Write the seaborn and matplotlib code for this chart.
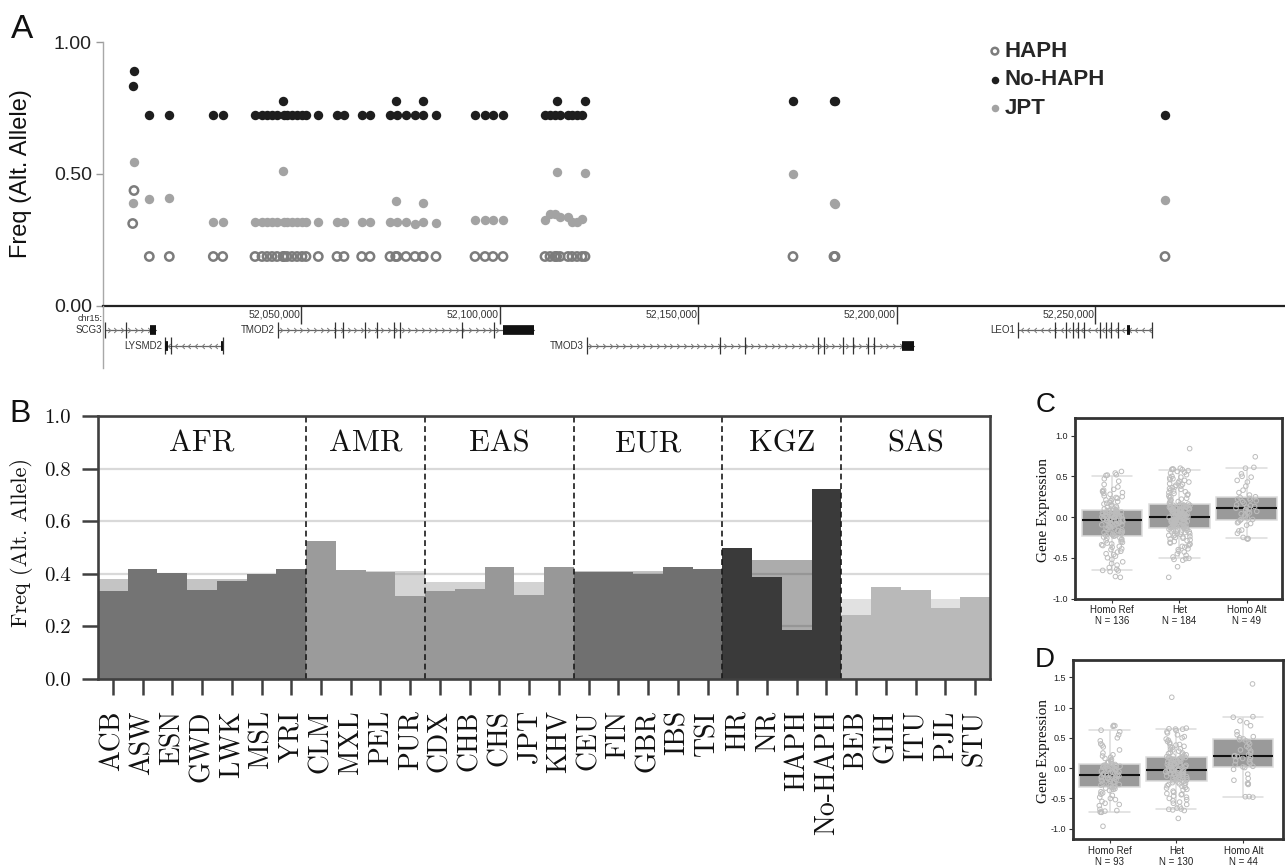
import numpy as np
import pandas as pd
import matplotlib
matplotlib.use("Agg")
import matplotlib.pyplot as plt
import matplotlib.transforms as mtransforms
from matplotlib.path import Path
import seaborn as sns

sns.set_theme(style="white")
plt.rcParams["font.family"] = ["Liberation Sans", "DejaVu Sans"]
plt.rcParams["axes.unicode_minus"] = False
SERIF_CM = ["cmr10", "DejaVu Serif"]

# ---------------- Panel A data ----------------
snp_pos = [52007481, 52007809, 52011663, 52016701, 52027785, 52030153, 52038289,
           52040052, 52041312, 52042571, 52043831, 52045342, 52045600, 52046350,
           52047609, 52048869, 52050128, 52051136, 52054234, 52058945, 52060708,
           52065167, 52067257, 52072295, 52073731, 52074058, 52076325, 52078592,
           52080532, 52080683, 52083883, 52093707, 52096226, 52098241, 52100760,
           52111340, 52112600, 52113860, 52114288, 52115118, 52117133, 52118141,
           52119400, 52120660, 52121416, 52173810, 52184138, 52184400, 52267517]
nohaph = [0.833, 0.889, 0.722, 0.722, 0.722, 0.722, 0.722,
          0.722, 0.722, 0.722, 0.722, 0.778, 0.722, 0.722,
          0.722, 0.722, 0.722, 0.722, 0.722, 0.722, 0.722,
          0.722, 0.722, 0.722, 0.778, 0.722, 0.722, 0.722,
          0.722, 0.778, 0.722, 0.722, 0.722, 0.722, 0.722,
          0.722, 0.722, 0.722, 0.778, 0.722, 0.722, 0.722,
          0.722, 0.722, 0.778, 0.778, 0.778, 0.778, 0.722]
jpt = [0.391, 0.547, 0.406, 0.410, 0.320, 0.320, 0.320,
       0.320, 0.320, 0.320, 0.320, 0.513, 0.320, 0.320,
       0.320, 0.320, 0.320, 0.320, 0.320, 0.320, 0.320,
       0.320, 0.320, 0.320, 0.398, 0.320, 0.320, 0.311,
       0.320, 0.391, 0.313, 0.326, 0.326, 0.326, 0.326,
       0.326, 0.348, 0.348, 0.509, 0.338, 0.338, 0.320,
       0.318, 0.330, 0.505, 0.500, 0.390, 0.385, 0.400]
haph = [0.3125, 0.4375] + [0.1875] * 47

axis_ticks = [52050000, 52100000, 52150000, 52200000, 52250000]
axis_tick_labels = ["52,050,000", "52,100,000", "52,150,000", "52,200,000", "52,250,000"]

gene_names = ["SCG3", "LYSMD2", "TMOD2", "TMOD3", "LEO1"]
gene_start = [52000500, 52015740, 52044000, 52121890, 52230500]
gene_end = [52013350, 52030300, 52108490, 52204400, 52264160]
gene_strand = [1, -1, 1, 1, -1]
gene_row = [0, 1, 0, 1, 0]
gene_exons = [
    [52000500, 52005794],
    [52015740, 52017180, 52030300],
    [52044000, 52058490, 52060430, 52066020, 52069120, 52073250, 52074890, 52090330, 52098540],
    [52121890, 52155300, 52161600, 52180100, 52181500, 52186300, 52188900, 52192600, 52194200],
    [52230500, 52239800, 52242600, 52244300, 52245700, 52247000, 52251200, 52252700,
     52254000, 52255600, 52264160],
]
gene_blocks = [
    [(52011965, 52013350)],
    [(52015740, 52016300), (52029800, 52030300)],
    [(52100660, 52108490)],
    [(52201200, 52204400)],
    [(52258000, 52258700)],
]

# ---------------- Panel B data ----------------
pops = ["ACB", "ASW", "ESN", "GWD", "LWK", "MSL", "YRI",
        "CLM", "MXL", "PEL", "PUR",
        "CDX", "CHB", "CHS", "JPT", "KHV",
        "CEU", "FIN", "GBR", "IBS", "TSI",
        "HR", "NR", "HAPH", "No-HAPH",
        "BEB", "GIH", "ITU", "PJL", "STU"]
pop_group = ["AFR", "AFR", "AFR", "AFR", "AFR", "AFR", "AFR",
             "AMR", "AMR", "AMR", "AMR",
             "EAS", "EAS", "EAS", "EAS", "EAS",
             "EUR", "EUR", "EUR", "EUR", "EUR",
             "KGZ", "KGZ", "KGZ", "KGZ",
             "SAS", "SAS", "SAS", "SAS", "SAS"]
pop_freq = [0.334, 0.417, 0.403, 0.340, 0.374, 0.400, 0.417,
            0.526, 0.413, 0.406, 0.316,
            0.334, 0.344, 0.426, 0.321, 0.427,
            0.407, 0.405, 0.398, 0.424, 0.420,
            0.499, 0.388, 0.188, 0.722,
            0.244, 0.348, 0.338, 0.270, 0.312]
groups = ["AFR", "AMR", "EAS", "EUR", "KGZ", "SAS"]
group_mean = [0.379, 0.410, 0.370, 0.410, 0.451, 0.303]
group_colors = {"AFR": "#747474", "AMR": "#9b9b9b", "EAS": "#989898",
                "EUR": "#707070", "KGZ": "#3a3a3a", "SAS": "#b9b9b9"}

# ---------------- Panels C / D data ----------------
geno_order = ["Homo Ref", "Het", "Homo Alt"]
C_labels = ["Homo Ref\nN = 136", "Het\nN = 184", "Homo Alt\nN = 49"]
D_labels = ["Homo Ref\nN = 93", "Het\nN = 130", "Homo Alt\nN = 44"]

C_ref = [-0.74, -0.73, -0.67, -0.66,
         -0.655, -0.64, -0.62, -0.59, -0.57, -0.55, -0.52, -0.50, -0.48, -0.46, -0.45, -0.43,
         -0.42, -0.40, -0.39, -0.37, -0.36, -0.35, -0.34, -0.33, -0.32, -0.31, -0.30, -0.29,
         -0.28, -0.27, -0.26, -0.255, -0.245, -0.235,
         -0.23, -0.225, -0.22, -0.21, -0.205, -0.20, -0.19, -0.185, -0.18, -0.17, -0.165, -0.16,
         -0.15, -0.145, -0.14, -0.13, -0.125, -0.12, -0.11, -0.105, -0.10, -0.095, -0.09, -0.085,
         -0.08, -0.075, -0.07, -0.065, -0.06, -0.055, -0.05, -0.048, -0.045, -0.042,
         -0.038, -0.035, -0.03, -0.025, -0.02, -0.018, -0.015, -0.01, -0.005, 0.0, 0.003, 0.006,
         0.01, 0.014, 0.018, 0.02, 0.024, 0.028, 0.03, 0.034, 0.038, 0.04, 0.044, 0.048, 0.05,
         0.054, 0.058, 0.06, 0.064, 0.068, 0.072, 0.076, 0.08, 0.083,
         0.09, 0.10, 0.11, 0.12, 0.13, 0.14, 0.15, 0.16, 0.17, 0.18, 0.19, 0.20, 0.21, 0.22,
         0.23, 0.24, 0.25, 0.26, 0.28, 0.29, 0.30, 0.31, 0.32, 0.33, 0.34, 0.37, 0.40, 0.44,
         0.47, 0.51,
         0.515, 0.52, 0.54, 0.56]
C_het = [-0.74, -0.61, -0.53, -0.52, -0.51,
         -0.507, -0.49, -0.47, -0.45, -0.43, -0.42, -0.40, -0.39, -0.37, -0.36, -0.35, -0.34,
         -0.33, -0.32, -0.31, -0.30, -0.29, -0.28, -0.27, -0.26, -0.25, -0.245, -0.24, -0.23,
         -0.225, -0.22, -0.21, -0.205, -0.20, -0.19, -0.185, -0.18, -0.175, -0.17, -0.165,
         -0.16, -0.155, -0.15, -0.145, -0.14, -0.136,
         -0.132, -0.128, -0.125, -0.12, -0.116, -0.113, -0.11, -0.106, -0.103, -0.10, -0.096,
         -0.093, -0.09, -0.086, -0.083, -0.08, -0.076, -0.073, -0.07, -0.066, -0.063, -0.06,
         -0.056, -0.053, -0.05, -0.046, -0.043, -0.04, -0.036, -0.033, -0.03, -0.027, -0.024,
         -0.021, -0.018, -0.015, -0.012, -0.01, -0.008, -0.006, -0.004, -0.002, 0.0, 0.001,
         0.002, 0.003,
         0.007, 0.01, 0.013, 0.016, 0.02, 0.023, 0.026, 0.03, 0.033, 0.036, 0.04, 0.043, 0.046,
         0.05, 0.053, 0.056, 0.06, 0.063, 0.066, 0.07, 0.073, 0.076, 0.08, 0.083, 0.086, 0.09,
         0.093, 0.096, 0.10, 0.103, 0.106, 0.11, 0.113, 0.116, 0.12, 0.123, 0.126, 0.13, 0.133,
         0.136, 0.14, 0.143, 0.146, 0.149, 0.151, 0.153,
         0.16, 0.17, 0.18, 0.19, 0.20, 0.21, 0.22, 0.23, 0.24, 0.25, 0.26, 0.27, 0.28, 0.29,
         0.30, 0.31, 0.32, 0.33, 0.34, 0.35, 0.36, 0.37, 0.38, 0.39, 0.40, 0.41, 0.42, 0.43,
         0.44, 0.45, 0.46, 0.47, 0.48, 0.49, 0.50, 0.52, 0.54, 0.55, 0.56, 0.57, 0.582,
         0.585, 0.587, 0.59, 0.60, 0.84]
C_alt = [-0.27, -0.266, -0.263,
         -0.25, -0.20, -0.17, -0.16, -0.10, -0.08, -0.07, -0.06, -0.04,
         -0.032,
         -0.03, -0.01, 0.0, 0.02, 0.04, 0.05, 0.06, 0.07, 0.08, 0.09, 0.10,
         0.11,
         0.12, 0.13, 0.14, 0.15, 0.17, 0.19, 0.20, 0.21, 0.22, 0.23, 0.24,
         0.249,
         0.27, 0.30, 0.33, 0.38, 0.43, 0.45, 0.49, 0.50, 0.53,
         0.60, 0.61, 0.74]
D_ref = [-0.96, -0.73, -0.728, -0.725,
         -0.71, -0.70, -0.68, -0.62, -0.60, -0.58, -0.55, -0.52, -0.50, -0.48, -0.45, -0.43,
         -0.41, -0.39, -0.37, -0.35, -0.34, -0.33, -0.32,
         -0.313,
         -0.30, -0.29, -0.28, -0.27, -0.26, -0.25, -0.24, -0.23, -0.22, -0.21, -0.20, -0.19,
         -0.18, -0.17, -0.16, -0.155, -0.15, -0.145, -0.14, -0.135, -0.13, -0.125,
         -0.12,
         -0.11, -0.10, -0.09, -0.08, -0.07, -0.06, -0.05, -0.04, -0.03, -0.02, -0.01, 0.0,
         0.005, 0.01, 0.015, 0.02, 0.025, 0.03, 0.035, 0.04, 0.045, 0.05,
         0.06,
         0.07, 0.08, 0.09, 0.10, 0.12, 0.14, 0.16, 0.18, 0.20, 0.22, 0.25, 0.30, 0.35, 0.38,
         0.40, 0.45, 0.50, 0.55, 0.60,
         0.626, 0.69, 0.70, 0.705]
D_het = [-0.83, -0.70, -0.69, -0.68, -0.675,
         -0.66, -0.64, -0.60, -0.58, -0.56, -0.54, -0.52, -0.50, -0.48, -0.46, -0.44, -0.43,
         -0.42, -0.40, -0.38, -0.36, -0.35, -0.33, -0.32, -0.30, -0.29, -0.28, -0.27, -0.26,
         -0.25, -0.24, -0.23, -0.216,
         -0.208, -0.20, -0.195, -0.19, -0.18, -0.175, -0.17, -0.16, -0.155, -0.15, -0.14,
         -0.135, -0.13, -0.12, -0.115, -0.11, -0.10, -0.095, -0.09, -0.085, -0.08, -0.075,
         -0.07, -0.065, -0.06, -0.055, -0.05, -0.045, -0.04, -0.037, -0.034, -0.03,
         -0.024, -0.02, -0.01, 0.0, 0.01, 0.02, 0.025, 0.03, 0.04, 0.045, 0.05, 0.06, 0.065,
         0.07, 0.08, 0.085, 0.09, 0.10, 0.105, 0.11, 0.12, 0.125, 0.13, 0.14, 0.145, 0.15,
         0.16, 0.165, 0.17, 0.175, 0.18, 0.184,
         0.19, 0.20, 0.21, 0.22, 0.23, 0.24, 0.25, 0.26, 0.28, 0.30, 0.31, 0.32, 0.34, 0.35,
         0.36, 0.38, 0.39, 0.40, 0.42, 0.44, 0.46, 0.48, 0.50, 0.52, 0.55, 0.58, 0.60, 0.62,
         0.643,
         0.645, 0.65, 0.66, 1.17]
D_alt = [-0.48, -0.472, -0.47,
         -0.27, -0.26, -0.25, -0.20, -0.17, -0.10, -0.02,
         0.01, 0.02,
         0.03, 0.06, 0.08, 0.10, 0.12, 0.14, 0.16, 0.18, 0.19,
         0.20, 0.206,
         0.22, 0.25, 0.28, 0.30, 0.33, 0.36, 0.40, 0.43, 0.45,
         0.47, 0.482,
         0.50, 0.52, 0.55, 0.60, 0.70, 0.75, 0.78,
         0.84, 0.85, 1.39]

# ---------------- figure ----------------
W, H = 1285, 866
fig = plt.figure(figsize=(W / 100, H / 100), dpi=100)


def box(l, t, r, b):
    return [l / W, 1 - b / H, (r - l) / W, (b - t) / H]


# ======== Panel A ========
XMIN, XMAX = 52000000, 52297750
axA = fig.add_axes(box(103, 42, 1285, 306))
dfA = pd.DataFrame({"pos": snp_pos, "HAPH": haph, "No-HAPH": nohaph, "JPT": jpt})
sns.scatterplot(data=dfA, x="pos", y="JPT", color="#a3a3a3", s=46, linewidth=0,
                ax=axA, zorder=3)
hJ = axA.collections[-1]
sns.scatterplot(data=dfA, x="pos", y="No-HAPH", color="#1e1e1e", s=46, linewidth=0,
                ax=axA, zorder=3)
hN = axA.collections[-1]
sns.scatterplot(data=dfA, x="pos", y="HAPH", color="#7c7c7c", s=36, linewidth=1.8,
                ax=axA, zorder=3)
hH = axA.collections[-1]
hH.set_facecolor("none")
hH.set_edgecolor("#7c7c7c")

axA.set_xlim(XMIN, XMAX)
axA.set_ylim(0, 1.0)
axA.set_yticks([0, 0.5, 1.0])
axA.set_yticklabels(["0.00", "0.50", "1.00"], fontsize=14, color="#222222")
axA.tick_params(axis="y", left=True, length=5, width=1, color="#9a9a9a", pad=3)
axA.set_xticks(axis_ticks)
axA.set_xticklabels([])
axA.tick_params(axis="x", bottom=True, length=13, width=1, color="#333333", direction="out")
for s in ["top", "right"]:
    axA.spines[s].set_visible(False)
axA.spines["left"].set_color("#a8a8a8")
axA.spines["left"].set_linewidth(1.0)
axA.spines["bottom"].set_color("#222222")
axA.spines["bottom"].set_linewidth(1.6)
axA.set_xlabel("")
axA.set_ylabel("Freq (Alt. Allele)", fontsize=17, color="#111111")
axA.yaxis.set_label_coords(-0.060, 0.5)

trA = mtransforms.blended_transform_factory(axA.transData, axA.transAxes)
for t, lab in zip(axis_ticks, axis_tick_labels):
    axA.text(t - 300, -0.014, lab, transform=trA, ha="right", va="top",
             fontsize=7.5, color="#333333")
axA.text(XMIN - 200, -0.031, "chr15:", transform=trA, ha="right", va="top",
         fontsize=6.5, color="#333333", clip_on=False)

leg = axA.legend(handles=[hH, hN, hJ], labels=["HAPH", "No-HAPH", "JPT"],
                 loc="upper left", bbox_to_anchor=((986 - 103) / 1182, (306 - 41) / 264),
                 frameon=False, prop={"weight": "bold", "size": 16},
                 handletextpad=0.05, labelspacing=0.33, handlelength=0.8,
                 borderpad=0, borderaxespad=0, markerscale=0.8)

# gene track
axG = fig.add_axes(box(103, 306, 1285, 368))
axG.set_xlim(XMIN, XMAX)
axG.set_ylim(0, 1)
axG.patch.set_alpha(0)
for s in ["top", "right", "bottom"]:
    axG.spines[s].set_visible(False)
axG.spines["left"].set_color("#a8a8a8")
axG.spines["left"].set_linewidth(1.0)
axG.set_xticks([])
axG.set_yticks([])
row_y = [0.615, 0.362]
chev_r = Path([(-0.5, 1), (0.5, 0), (-0.5, -1)], [Path.MOVETO, Path.LINETO, Path.LINETO])
chev_l = Path([(0.5, 1), (-0.5, 0), (0.5, -1)], [Path.MOVETO, Path.LINETO, Path.LINETO])
for name, st, en, strand, row, exons, blocks in zip(gene_names, gene_start, gene_end,
                                                     gene_strand, gene_row, gene_exons,
                                                     gene_blocks):
    y = row_y[row]
    axG.plot([st, en], [y, y], color="#666666", lw=0.9, zorder=2)
    axG.vlines(exons, y - 0.13, y + 0.13, color="#333333", lw=0.9, zorder=3)
    for b0, b1 in blocks:
        axG.plot([b0, b1], [y, y], color="#111111", lw=7, solid_capstyle="butt", zorder=4)
    arrows = np.arange(st + 900, en - 400, 1700)
    axG.plot(arrows, [y] * len(arrows), ls="none",
             marker=chev_r if strand > 0 else chev_l, ms=3.6, mfc="none",
             mec="#777777", mew=0.7, zorder=2)
    axG.text(st - 700, y, name, ha="right", va="center", fontsize=7, color="#333333")

# ======== Panel B ========
axB = fig.add_axes(box(98, 416, 990, 679))
dfB = pd.DataFrame({"pop": pops, "freq": pop_freq, "group": pop_group})
axB.set_axisbelow(True)
axB.yaxis.grid(True, color="#d9d9d9", lw=1.6)
axB.xaxis.grid(False)
sns.barplot(data=dfB, x="pop", y="freq", hue="group", palette=group_colors, order=pops,
            hue_order=groups, dodge=False, width=1.0, saturation=1, errorbar=None,
            legend=False, linewidth=0, ax=axB, zorder=3)
for g, m in zip(groups, group_mean):
    idx = [i for i, p in enumerate(pop_group) if p == g]
    center = (idx[0] + idx[-1]) / 2
    axB.bar(center, m, width=len(idx), color=group_colors[g], alpha=0.42,
            linewidth=0, zorder=2)
    axB.text(center, 0.864, g, transform=mtransforms.blended_transform_factory(
        axB.transData, axB.transAxes), ha="center", va="baseline", fontsize=22,
        fontfamily=SERIF_CM, color="#111111")
bounds = []
for i in range(1, len(pop_group)):
    if pop_group[i] != pop_group[i - 1]:
        bounds.append(i - 0.5)
for b in bounds:
    axB.axvline(b, color="#1a1a1a", lw=1.2, ls=(0, (3.5, 2.2)), zorder=5)
axB.set_xlim(-0.5, len(pops) - 0.5)
axB.set_ylim(0, 1.0)
axB.set_yticks([0, 0.2, 0.4, 0.6, 0.8, 1.0])
axB.set_yticklabels(["0.0", "0.2", "0.4", "0.6", "0.8", "1.0"], fontsize=15,
                    fontfamily=SERIF_CM, color="#111111")
axB.set_xticks(range(len(pops)))
axB.set_xticklabels(pops, rotation=90, fontsize=20, fontfamily=SERIF_CM, color="#111111")
axB.tick_params(axis="y", left=True, length=11.5, width=1.8, color="#404040", pad=8)
axB.tick_params(axis="x", bottom=True, length=11.5, width=1.8, color="#404040", pad=11)
for s in axB.spines.values():
    s.set_color("#404040")
    s.set_linewidth(1.9)
    s.set_zorder(6)
axB.set_xlabel("")
axB.set_ylabel("Freq (Alt. Allele)", fontsize=16, fontfamily=SERIF_CM, color="#111111")
axB.yaxis.set_label_coords(-0.073, 0.52)


# ======== Panels C / D ========
def expr_panel(rect, ref, het, alt, labels, ylim, xlim, yticks, label_x):
    ax = fig.add_axes(rect)
    df = pd.DataFrame({
        "geno": ["Homo Ref"] * len(ref) + ["Het"] * len(het) + ["Homo Alt"] * len(alt),
        "expr": list(ref) + list(het) + list(alt)})
    sns.boxplot(data=df, x="geno", y="expr", order=geno_order, color="#9a9a9a",
                saturation=1, width=0.9, whis=(2.5, 97.5), showfliers=False,
                linecolor="#dcdcdc", linewidth=1.1,
                medianprops={"color": "#111111", "linewidth": 1.5},
                capwidths=0.6, ax=ax)
    n0 = len(ax.collections)
    sns.stripplot(data=df, x="geno", y="expr", order=geno_order, color="#c2c2c2",
                  size=3.3, jitter=0.16, linewidth=0.7, ax=ax, zorder=4)
    for c in ax.collections[n0:]:
        c.set_facecolor("none")
        c.set_edgecolor("#bdbdbd")
        c.set_linewidth(0.7)
    ax.set_xlim(*xlim)
    ax.set_ylim(*ylim)
    ax.set_yticks(yticks)
    ax.set_yticklabels(["%.1f" % v for v in yticks], fontsize=6.5, color="#222222")
    ax.set_xticks(range(3))
    ax.set_xticklabels(labels, fontsize=7, linespacing=1.05, color="#222222")
    ax.tick_params(axis="both", left=True, bottom=True, length=3, width=0.8,
                   color="#333333", pad=2)
    for s in ax.spines.values():
        s.set_color("#333333")
        s.set_linewidth(2.0)
    ax.set_xlabel("")
    ax.set_ylabel("Gene Expression", fontsize=11, fontfamily=["Liberation Serif", "DejaVu Serif"],
                  color="#111111")
    ax.yaxis.set_label_coords(label_x, 0.49)
    return ax


expr_panel(box(1075, 418, 1282, 598.5), C_ref, C_het, C_alt, C_labels,
           (-1.0, 1.216), (-0.549, 2.524), [-1.0, -0.5, 0.0, 0.5, 1.0], -0.121)
expr_panel(box(1072.7, 660, 1283, 839.3), D_ref, D_het, D_alt, D_labels,
           (-1.175, 1.785), (-0.55, 2.593), [-1.0, -0.5, 0.0, 0.5, 1.0, 1.5], -0.108)

# panel letters
for letter, x, y, size in [("A", 11, 38, 24), ("B", 9, 422, 23), ("C", 1036, 412, 20),
                           ("D", 1035, 667, 20)]:
    fig.text(x / W, 1 - y / H, letter, fontsize=size, ha="left", va="baseline",
             color="#111111")

fig.savefig("out.png", dpi=100)
